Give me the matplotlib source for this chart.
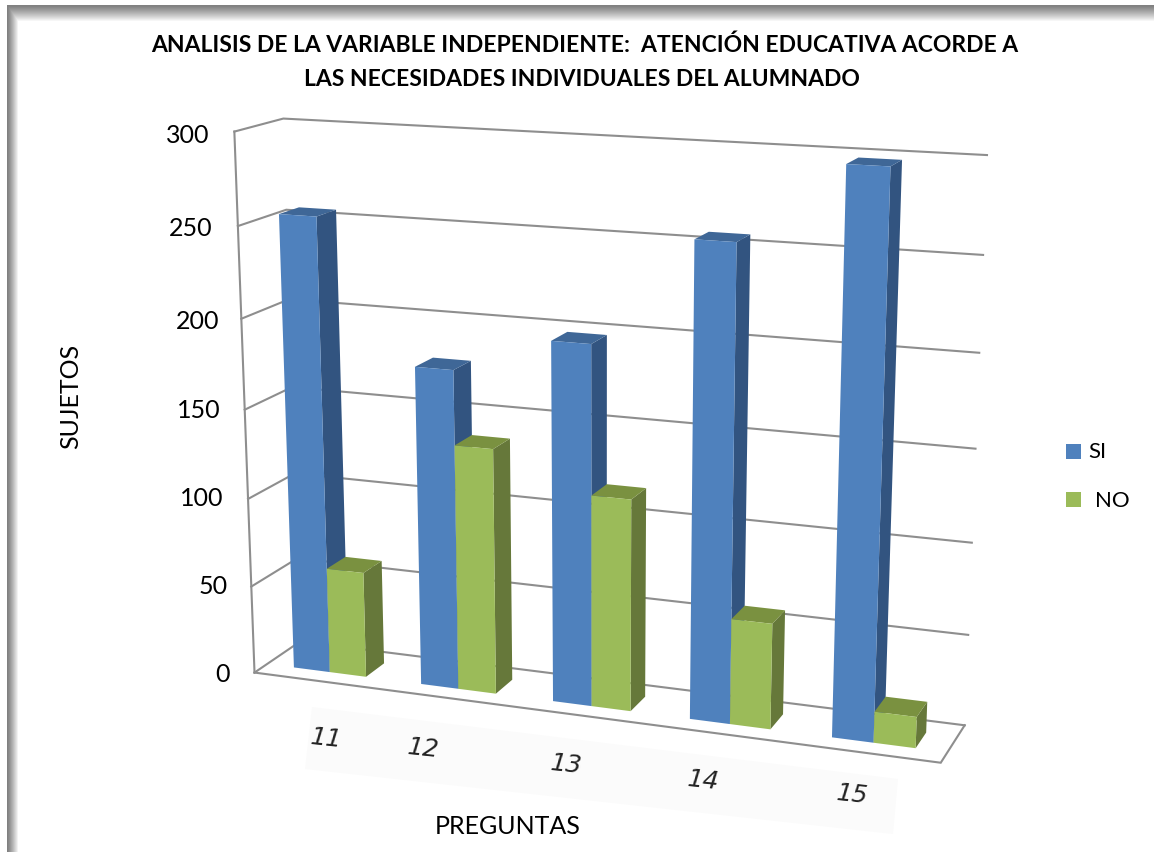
import numpy as np
import matplotlib
matplotlib.use('Agg')
from matplotlib import pyplot as plt
from matplotlib.patches import Polygon, Rectangle

WIDTH, HEIGHT = 1154, 853

preguntas = ['11', '12', '13', '14', '15']
si_values = [255, 178, 198, 256, 298]
no_values = [60, 137, 117, 58, 17]
y_ticks = [0, 50, 100, 150, 200, 250, 300]
title_lines = ['ANALISIS DE LA VARIABLE INDEPENDIENTE:  ATENCIÓN EDUCATIVA ACORDE A',
               'LAS NECESIDADES INDIVIDUALES DEL ALUMNADO']

# (category position, depth, value) -> picture pixel
anchors_3d = [(0, 0, 0), (5, 0, 0), (5, 1, 0), (0, 1, 0), (0, 0, 300),
              (0, 1, 300), (5, 1, 300), (5, 1, 250), (0, 0, 250), (0, 1, 250)]
anchors_px = [(254.5, 673), (941, 764), (964.5, 726), (300, 643), (234, 133),
              (283, 119), (987, 156), (983, 256), (238, 227), (287, 211)]

SI_COLORS = {'front': '#4F81BD', 'side': '#325480', 'top': '#3F6797'}
NO_COLORS = {'front': '#9BBB59', 'side': '#66783A', 'top': '#7A9140'}
GRID_COLOR = '#8E8E8E'
BAR_WIDTH = 0.2857
BAR_GAP = 0.215
DEPTH_FRONT = 0.27
DEPTH_BACK = 0.69


def fit_camera(points, pixels):
    rows, rhs = [], []
    for (x, d, z), (u, v) in zip(points, pixels):
        x, z = x / 5, z / 300
        rows.append([x, d, z, 1, 0, 0, 0, 0, -u * x, -u * d, -u * z])
        rows.append([0, 0, 0, 0, x, d, z, 1, -v * x, -v * d, -v * z])
        rhs += [u, v]
    solution = np.linalg.lstsq(np.array(rows), np.array(rhs), rcond=None)[0]
    return np.append(solution, 1).reshape(3, 4)


camera = fit_camera(anchors_3d, anchors_px)


def project(x, d, z):
    u, v, w = camera @ np.array([x / 5, d, z / 300, 1])
    return u / w, v / w


def draw_line(ax, points):
    pixels = [project(*p) for p in points]
    ax.plot(*zip(*pixels), color=GRID_COLOR, lw=1.5, solid_joinstyle='miter', zorder=2)


def draw_bar(ax, left, right, value, colors):
    d0, d1 = DEPTH_FRONT, DEPTH_BACK
    faces = {
        'side': [(right, d0, 0), (right, d1, 0), (right, d1, value), (right, d0, value)],
        'top': [(left, d0, value), (right, d0, value), (right, d1, value), (left, d1, value)],
        'front': [(left, d0, 0), (right, d0, 0), (right, d0, value), (left, d0, value)],
    }
    for name, face in faces.items():
        ax.add_patch(Polygon([project(*p) for p in face], closed=True,
                             facecolor=colors[name], edgecolor='none', zorder=3))


def frame_image():
    xx, yy = np.meshgrid(np.arange(WIDTH), np.arange(HEIGHT))
    left = np.clip((xx - 7) / 11, 0, 1)
    top = np.clip((yy - 6) / 16, 0, 1)
    shade = 0.5 + 0.5 * np.minimum(left, top) ** 1.2
    shade[(xx < 7) | (yy < 6)] = 1
    return shade


plt.rcParams['font.family'] = ['Lato', 'DejaVu Sans']
fig = plt.figure(figsize=(WIDTH / 100, HEIGHT / 100), dpi=100)
ax = fig.add_axes([0, 0, 1, 1])
ax.imshow(frame_image(), cmap='gray', vmin=0, vmax=1, extent=(0, WIDTH, HEIGHT, 0),
          aspect='auto', zorder=0)
ax.set_xlim(0, WIDTH)
ax.set_ylim(HEIGHT, 0)
ax.axis('off')

for line, (x, y) in zip(title_lines, [(584.5, 45), (581.5, 79)]):
    ax.text(x, y, line, ha='center', va='center', fontsize=16.5, fontweight='bold')

for tick, right_edge, y in zip(y_ticks, [230, 228, 223, 221, 219, 213, 209],
                               [674, 587, 499, 411, 321, 228, 135]):
    ax.text(right_edge, y, str(tick), ha='right', va='center', fontsize=18)
    draw_line(ax, [(0, 0, tick), (0, 1, tick), (5, 1, tick)])

draw_line(ax, [(0, 0, 0), (0, 0, 300)])
draw_line(ax, [(0, 0, 0), (5, 0, 0), (5, 1, 0)])

for i, (si, no) in enumerate(zip(si_values, no_values)):
    left = i + BAR_GAP
    draw_bar(ax, left, left + BAR_WIDTH, si, SI_COLORS)
    draw_bar(ax, left + BAR_WIDTH, left + 2 * BAR_WIDTH, no, NO_COLORS)

# category labels sit on a faint pasted strip in the original
ax.add_patch(Polygon([(312, 708), (898, 780), (893, 835), (305, 770)], closed=True,
                     facecolor='#FBFBFB', edgecolor='none', zorder=1))
label_positions = [(326, 739), (423, 749), (566, 765), (703, 781), (852, 795)]
for label, (x, y) in zip(preguntas, label_positions):
    ax.text(x, y, label, ha='center', va='center', fontsize=18, style='italic',
            rotation=-6, color='#222222', family='DejaVu Sans', zorder=4)

ax.text(71, 396, 'SUJETOS', rotation=90, ha='center', va='center', fontsize=18)
ax.text(508, 827, 'PREGUNTAS', ha='center', va='center', fontsize=18)

ax.add_patch(Rectangle((1066, 445), 15, 15, facecolor=SI_COLORS['front'], edgecolor='none'))
ax.add_patch(Rectangle((1066, 493), 15, 15, facecolor=NO_COLORS['front'], edgecolor='none'))
ax.text(1088, 452, 'SI', ha='left', va='center', fontsize=16)
ax.text(1095, 501, 'NO', ha='left', va='center', fontsize=16)

fig.savefig('out.png', dpi=100)
